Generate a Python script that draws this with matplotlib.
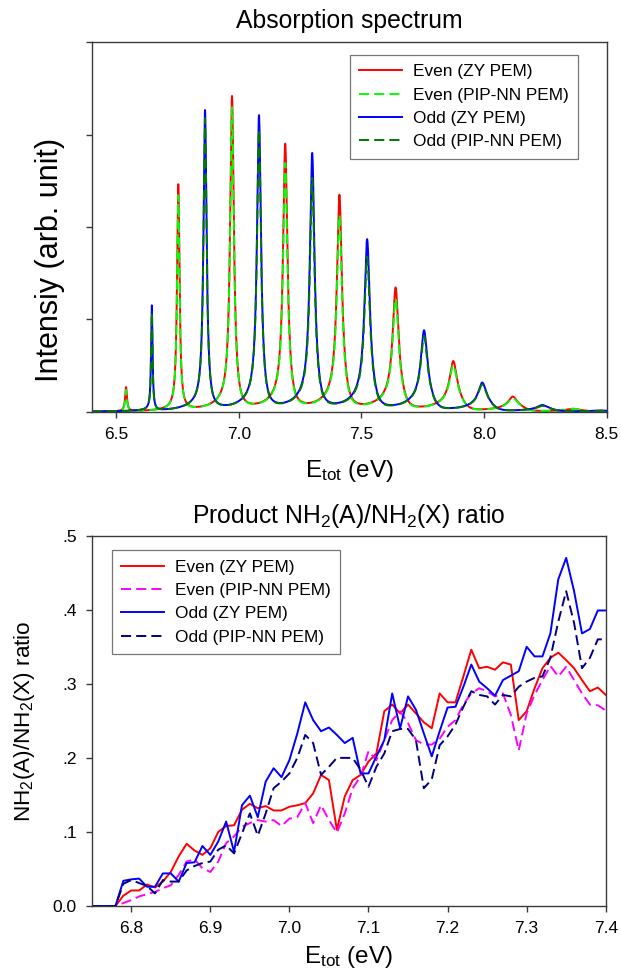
import numpy as np
import matplotlib
matplotlib.use("Agg")
import matplotlib.pyplot as plt

plt.rcParams['font.family'] = ['Liberation Sans', 'DejaVu Sans']
plt.rcParams['mathtext.fontset'] = 'custom'
plt.rcParams['mathtext.rm'] = 'Liberation Sans'
plt.rcParams['mathtext.it'] = 'Liberation Sans:italic'

# --- absorption spectrum: peak positions (eV), peak heights, widths (FWHM, eV), low-energy foot
even_pos = [6.540, 6.753, 6.972, 7.189, 7.410, 7.639, 7.874, 8.116, 8.360]
even_zy = [0.26, 2.45, 3.40, 2.88, 2.33, 1.33, 0.54, 0.16, 0.03]
even_pip = [0.23, 2.33, 3.28, 2.67, 2.11, 1.21, 0.50, 0.145, 0.03]
even_fwhm = [0.009, 0.012, 0.018, 0.021, 0.024, 0.028, 0.035, 0.042, 0.048]
even_foot = [0.0, 0.03, 0.15, 0.19, 0.22, 0.22, 0.16, 0.07, 0.02]

odd_pos = [6.645, 6.862, 7.082, 7.299, 7.523, 7.755, 7.992, 8.236, 8.470]
odd_zy = [1.14, 3.25, 3.19, 2.78, 1.85, 0.87, 0.31, 0.07, 0.012]
odd_pip = [1.06, 3.16, 3.03, 2.51, 1.66, 0.81, 0.29, 0.06, 0.010]
odd_fwhm = [0.007, 0.015, 0.019, 0.022, 0.026, 0.031, 0.038, 0.044, 0.048]
odd_foot = [0.015, 0.12, 0.19, 0.22, 0.23, 0.20, 0.11, 0.04, 0.01]

# --- product branching ratio vs total energy
e_ratio = [6.75, 6.76, 6.77, 6.78, 6.79, 6.80, 6.81, 6.82, 6.83, 6.84,
           6.85, 6.86, 6.87, 6.88, 6.89, 6.90, 6.91, 6.92, 6.93, 6.94,
           6.95, 6.96, 6.97, 6.98, 6.99, 7.00, 7.01, 7.02, 7.03, 7.04,
           7.05, 7.06, 7.07, 7.08, 7.09, 7.10, 7.11, 7.12, 7.13, 7.14,
           7.15, 7.16, 7.17, 7.18, 7.19, 7.20, 7.21, 7.22, 7.23, 7.24,
           7.25, 7.26, 7.27, 7.28, 7.29, 7.30, 7.31, 7.32, 7.33, 7.34,
           7.35, 7.36, 7.37, 7.38, 7.39, 7.40]
ratio_even_zy = [0, 0, 0, 0, 0.014, 0.021, 0.021, 0.029, 0.025, 0.033,
                 0.046, 0.067, 0.084, 0.075, 0.069, 0.078, 0.100, 0.108, 0.109, 0.130,
                 0.138, 0.132, 0.135, 0.129, 0.129, 0.134, 0.136, 0.139, 0.152, 0.177,
                 0.170, 0.103, 0.148, 0.170, 0.177, 0.195, 0.206, 0.263, 0.272, 0.260,
                 0.272, 0.260, 0.248, 0.240, 0.287, 0.275, 0.275, 0.310, 0.346, 0.321,
                 0.323, 0.319, 0.329, 0.326, 0.251, 0.263, 0.294, 0.321, 0.335, 0.342,
                 0.332, 0.321, 0.305, 0.290, 0.295, 0.285]
ratio_even_pip = [0, 0, 0, 0, 0.004, 0.008, 0.013, 0.016, 0.019, 0.024,
                  0.028, 0.042, 0.060, 0.063, 0.051, 0.046, 0.060, 0.085, 0.094, 0.107,
                  0.112, 0.116, 0.114, 0.116, 0.108, 0.118, 0.120, 0.139, 0.112, 0.136,
                  0.116, 0.099, 0.125, 0.159, 0.175, 0.209, 0.197, 0.224, 0.251, 0.263,
                  0.247, 0.224, 0.218, 0.218, 0.226, 0.242, 0.251, 0.272, 0.287, 0.294,
                  0.290, 0.283, 0.287, 0.258, 0.210, 0.260, 0.285, 0.305, 0.324, 0.310,
                  0.323, 0.305, 0.287, 0.272, 0.271, 0.264]
ratio_odd_zy = [0, 0, 0, 0, 0.034, 0.036, 0.037, 0.026, 0.026, 0.044,
                0.044, 0.033, 0.058, 0.059, 0.081, 0.069, 0.087, 0.114, 0.073, 0.136,
                0.149, 0.120, 0.168, 0.186, 0.174, 0.197, 0.233, 0.275, 0.251, 0.236,
                0.241, 0.231, 0.220, 0.227, 0.179, 0.179, 0.202, 0.224, 0.287, 0.240,
                0.283, 0.265, 0.233, 0.202, 0.236, 0.268, 0.269, 0.296, 0.326, 0.303,
                0.294, 0.284, 0.305, 0.311, 0.317, 0.350, 0.337, 0.337, 0.368, 0.441,
                0.470, 0.425, 0.368, 0.374, 0.399, 0.399]
ratio_odd_pip = [0, 0, 0, 0, 0.030, 0.035, 0.031, 0.027, 0.017, 0.035,
                 0.033, 0.033, 0.048, 0.054, 0.058, 0.060, 0.076, 0.082, 0.071, 0.098,
                 0.125, 0.095, 0.125, 0.159, 0.168, 0.179, 0.200, 0.231, 0.220, 0.177,
                 0.188, 0.200, 0.200, 0.200, 0.184, 0.161, 0.188, 0.206, 0.236, 0.239,
                 0.239, 0.224, 0.159, 0.171, 0.217, 0.229, 0.245, 0.269, 0.290, 0.285,
                 0.283, 0.272, 0.285, 0.283, 0.296, 0.303, 0.308, 0.310, 0.335, 0.384,
                 0.425, 0.382, 0.321, 0.335, 0.360, 0.360]

spec_xticks = [6.5, 7.0, 7.5, 8.0, 8.5]
ratio_xticks = [6.8, 6.9, 7.0, 7.1, 7.2, 7.3, 7.4]
ratio_yticks = [0.0, 0.1, 0.2, 0.3, 0.4, 0.5]
ratio_ytick_labels = ["0.0", ".1", ".2", ".3", ".4", ".5"]

labels = ["Even (ZY PEM)", "Even (PIP-NN PEM)", "Odd (ZY PEM)", "Odd (PIP-NN PEM)"]

AX_COLOR = '#3a3a3a'


def broaden(e, pos, heights, fwhm, foot, tau=0.07):
    # lorentzian lines sitting on a slowly rising low-energy foot
    y = np.zeros_like(e)
    for p, h, w, b in zip(pos, heights, fwhm, foot):
        hw = w / 2
        d = e - p
        core = (h - b) * hw ** 2 / (d ** 2 + hw ** 2)
        low = b * np.exp(np.clip(d, None, 0) / tau)
        high = b * np.exp(-(np.clip(d, 0, None) / (1.2 * w)) ** 2)
        y += core + np.where(d <= 0, low, high)
    return y


def style_axes(ax):
    for s in ax.spines.values():
        s.set_color(AX_COLOR)
        s.set_linewidth(1.0)
    ax.tick_params(direction='out', length=4.3, width=1.0, color=AX_COLOR,
                   labelsize=12.5, pad=6.5, top=False, right=False)


def add_legend(ax, **kw):
    leg = ax.legend(fontsize=12.4, frameon=True, fancybox=False, edgecolor='#555555',
                    handlelength=2.5, handletextpad=0.6, labelspacing=0.48,
                    borderpad=0.55, borderaxespad=0, **kw)
    leg.get_frame().set_linewidth(0.9)
    return leg


fig = plt.figure(figsize=(6.21, 9.80), dpi=100)

# absorption spectrum
ax1 = fig.add_axes([0.1477, 0.5799, 0.8293, 0.3769])
e = np.linspace(6.4, 8.5, 6000)
dash = (0, (5.2, 2.6))
ax1.plot(e, broaden(e, even_pos, even_zy, even_fwhm, even_foot), color='#ff0000', lw=1.4, label=labels[0])
ax1.plot(e, broaden(e, even_pos, even_pip, even_fwhm, even_foot), color='#00ff00', lw=1.4, ls=dash, label=labels[1])
ax1.plot(e, broaden(e, odd_pos, odd_zy, odd_fwhm, odd_foot), color='#0000ff', lw=1.4, label=labels[2])
ax1.plot(e, broaden(e, odd_pos, odd_pip, odd_fwhm, odd_foot), color='#007a00', lw=1.4, ls=dash, label=labels[3])
ax1.set_xlim(6.4, 8.5)
ax1.set_ylim(0, 4)
ax1.set_xticks(spec_xticks)
ax1.set_xticklabels([f"{t:.1f}" for t in spec_xticks])
ax1.set_yticks([0, 1, 2, 3, 4])
ax1.set_yticklabels([])
style_axes(ax1)
ax1.set_title("Absorption spectrum", fontsize=17.8, pad=10)
ax1.set_xlabel(r"E$_{\mathrm{tot}}$ (eV)", fontsize=17.5, labelpad=12)
ax1.set_ylabel("Intensiy (arb. unit)", fontsize=22)
ax1.yaxis.set_label_coords(-0.052, 0.411)
add_legend(ax1, loc='upper right', bbox_to_anchor=(0.944, 0.966))

# branching ratio
ax2 = fig.add_axes([0.1477, 0.0755, 0.8277, 0.3779])
ax2.plot(e_ratio, ratio_even_zy, color='#ff0000', lw=1.4, label=labels[0])
ax2.plot(e_ratio, ratio_even_pip, color='#ff00ff', lw=1.4, ls=dash, label=labels[1])
ax2.plot(e_ratio, ratio_odd_zy, color='#0000ff', lw=1.4, label=labels[2])
ax2.plot(e_ratio, ratio_odd_pip, color='#000080', lw=1.4, ls=dash, label=labels[3])
ax2.set_xlim(6.75, 7.4)
ax2.set_ylim(0, 0.5)
ax2.set_xticks(ratio_xticks)
ax2.set_xticklabels([f"{t:.1f}" for t in ratio_xticks])
ax2.set_yticks(ratio_yticks)
ax2.set_yticklabels(ratio_ytick_labels)
style_axes(ax2)
ax2.set_title(r"Product NH$_2$(A)/NH$_2$(X) ratio", fontsize=17.8, pad=9)
ax2.set_xlabel(r"E$_{\mathrm{tot}}$ (eV)", fontsize=17.5, labelpad=6)
ax2.set_ylabel(r"NH$_2$(A)/NH$_2$(X) ratio", fontsize=16.2)
ax2.yaxis.set_label_coords(-0.106, 0.5)
add_legend(ax2, loc='upper left', bbox_to_anchor=(0.039, 0.961))

fig.savefig("out.png", dpi=100)
